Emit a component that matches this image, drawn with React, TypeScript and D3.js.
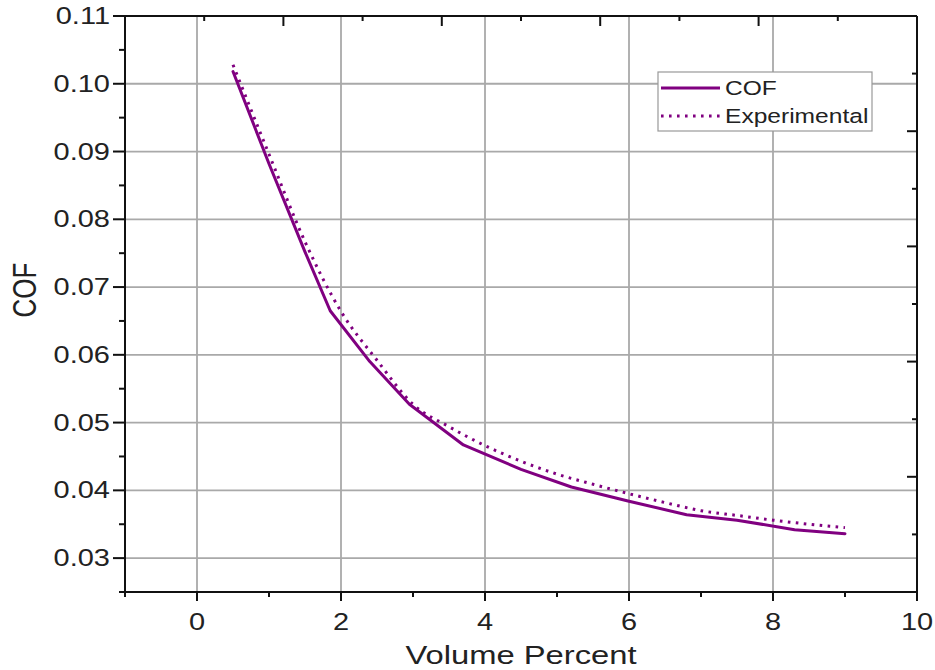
import React, { useEffect, useRef } from "react";
import * as d3 from "d3";

// Model curve (solid) – volume percent vs coefficient of friction
const cofX = [0.5, 1.0, 1.5, 1.85, 2.4, 2.95, 3.7, 4.5, 5.2, 6.0, 6.8, 7.5, 8.3, 9.0];
const cofY = [0.1018, 0.0882, 0.0752, 0.0665, 0.059, 0.0527, 0.0467, 0.0431, 0.0405, 0.0384, 0.0364, 0.0356, 0.0342, 0.0336];

// Experimental curve (dotted)
const expX = [0.5, 1.0, 1.5, 2.0, 2.5, 3.0, 3.5, 4.0, 4.5, 5.0, 5.5, 6.0, 6.5, 7.0, 7.5, 8.0, 8.5, 9.0];
const expY = [0.1028, 0.0896, 0.0767, 0.0664, 0.0592, 0.0527, 0.0494, 0.0466, 0.0443, 0.0424, 0.0409, 0.0395, 0.0382, 0.037, 0.0363, 0.0356, 0.035, 0.0345];

const xTicks = [0, 2, 4, 6, 8, 10];
const xMinor = [-1, 1, 3, 5, 7, 9];
const yTicks = [0.03, 0.04, 0.05, 0.06, 0.07, 0.08, 0.09, 0.1, 0.11];
const yMinor = [0.025, 0.035, 0.045, 0.055, 0.065, 0.075, 0.085, 0.095, 0.105];

const W = 935;
const H = 670;
const M = { left: 125, right: 917, top: 16, bottom: 592 };
const PURPLE = "#800080";
const FONT = "'Liberation Sans', Arial, sans-serif";
const SX = 1.26; // horizontal text stretch

export default function App() {
  const ref = useRef<SVGSVGElement>(null);

  useEffect(() => {
    document.body.style.margin = "0";
    const svg = d3.select(ref.current);
    svg.selectAll("*").remove();

    const x = d3.scaleLinear().domain([-1, 10]).range([M.left, M.right]);
    const y = d3.scaleLinear().domain([0.025, 0.11]).range([M.bottom, M.top]);
    // linked top/right axes with their own five-interval scales
    const xTop = d3.scaleLinear().domain([0, 5]).range([M.left, M.right]);
    const yRight = d3.scaleLinear().domain([0, 5]).range([M.top, M.bottom]);

    svg.append("rect").attr("width", W).attr("height", H).attr("fill", "#fff");

    // grid
    const grid = svg.append("g").attr("stroke", "#a9a9a9").attr("stroke-width", 1.8);
    xTicks.filter((t) => t > -1 && t < 10).forEach((t) => {
      grid.append("line").attr("x1", x(t)).attr("x2", x(t)).attr("y1", M.top).attr("y2", M.bottom);
    });
    yTicks.filter((t) => t < 0.11).forEach((t) => {
      grid.append("line").attr("x1", M.left).attr("x2", M.right).attr("y1", y(t)).attr("y2", y(t));
    });

    // series
    const lineCof = d3
      .line<number>()
      .x((_, i) => x(cofX[i]))
      .y((d) => y(d))
      .curve(d3.curveLinear);
    svg
      .append("path")
      .attr("d", lineCof(cofY))
      .attr("fill", "none")
      .attr("stroke", PURPLE)
      .attr("stroke-width", 3)
      .attr("stroke-linejoin", "round")
      .attr("stroke-linecap", "round");

    const lineExp = d3
      .line<number>()
      .x((_, i) => x(expX[i]))
      .y((d) => y(d))
      .curve(d3.curveMonotoneX);
    svg
      .append("path")
      .attr("d", lineExp(expY))
      .attr("fill", "none")
      .attr("stroke", PURPLE)
      .attr("stroke-width", 3)
      .attr("stroke-dasharray", "2.6 5.4");

    // axes frame
    const ax = svg.append("g").attr("stroke", "#111").attr("stroke-width", 2);
    ax.append("line").attr("x1", M.left).attr("x2", M.right).attr("y1", M.bottom).attr("y2", M.bottom);
    ax.append("line").attr("x1", M.left).attr("x2", M.right).attr("y1", M.top).attr("y2", M.top);
    ax.append("line").attr("x1", M.left).attr("x2", M.left).attr("y1", M.top).attr("y2", M.bottom);
    ax.append("line").attr("x1", M.right).attr("x2", M.right).attr("y1", M.top).attr("y2", M.bottom);

    // bottom ticks
    xTicks.forEach((t) =>
      ax.append("line").attr("x1", x(t)).attr("x2", x(t)).attr("y1", M.bottom).attr("y2", M.bottom + 9)
    );
    xMinor.forEach((t) =>
      ax.append("line").attr("x1", x(t)).attr("x2", x(t)).attr("y1", M.bottom).attr("y2", M.bottom + 5)
    );
    // left ticks
    yTicks.forEach((t) =>
      ax.append("line").attr("x1", M.left - 12).attr("x2", M.left).attr("y1", y(t)).attr("y2", y(t))
    );
    yMinor.forEach((t) =>
      ax.append("line").attr("x1", M.left - 6).attr("x2", M.left).attr("y1", y(t)).attr("y2", y(t))
    );
    // top & right ticks (inward)
    d3.range(0, 5.01, 0.5).forEach((t) => {
      const major = Math.abs(t - Math.round(t)) < 1e-6;
      const len = major ? 10 : 5;
      ax.append("line").attr("x1", xTop(t)).attr("x2", xTop(t)).attr("y1", M.top).attr("y2", M.top + len);
      ax.append("line").attr("x1", M.right - len).attr("x2", M.right).attr("y1", yRight(t)).attr("y2", yRight(t));
    });

    // tick labels
    const lab = svg.append("g").attr("font-family", FONT).attr("fill", "#222").attr("font-size", 23);
    xTicks.forEach((t) => {
      lab
        .append("text")
        .attr("transform", `translate(${x(t)},${630}) scale(${SX},1)`)
        .attr("text-anchor", "middle")
        .text(String(t));
    });
    yTicks.forEach((t) => {
      lab
        .append("text")
        .attr("transform", `translate(${M.left - 15},${y(t) + 8}) scale(${SX},1)`)
        .attr("text-anchor", "end")
        .text(t.toFixed(2));
    });

    // axis titles
    svg
      .append("text")
      .attr("transform", `translate(${(M.left + M.right) / 2},${664}) scale(${SX},1)`)
      .attr("text-anchor", "middle")
      .attr("font-family", FONT)
      .attr("font-size", 26)
      .attr("fill", "#222")
      .text("Volume Percent");
    svg
      .append("text")
      .attr("transform", `translate(${36},${290}) scale(${SX},1) rotate(-90)`)
      .attr("text-anchor", "middle")
      .attr("font-family", FONT)
      .attr("font-size", 26)
      .attr("fill", "#222")
      .text("COF");

    // legend
    const lg = svg.append("g");
    lg.append("rect")
      .attr("x", 658)
      .attr("y", 72)
      .attr("width", 214)
      .attr("height", 59)
      .attr("fill", "#fff")
      .attr("stroke", "#999")
      .attr("stroke-width", 1.2);
    const items = [
      { label: "COF", dash: null as string | null },
      { label: "Experimental", dash: "2.6 5.4" },
    ];
    items.forEach((it, i) => {
      const cy = 88 + i * 28;
      const l = lg
        .append("line")
        .attr("x1", 661)
        .attr("x2", 720)
        .attr("y1", cy)
        .attr("y2", cy)
        .attr("stroke", PURPLE)
        .attr("stroke-width", 3);
      if (it.dash) l.attr("stroke-dasharray", it.dash);
      lg.append("text")
        .attr("transform", `translate(${725},${cy + 7}) scale(${SX},1)`)
        .attr("font-family", FONT)
        .attr("font-size", 19.5)
        .attr("fill", "#222")
        .text(it.label);
    });
  }, []);

  return (
    <svg
      ref={ref}
      width={W}
      height={H}
      style={{ position: "absolute", left: 0, top: 0, display: "block" }}
    />
  );
}
